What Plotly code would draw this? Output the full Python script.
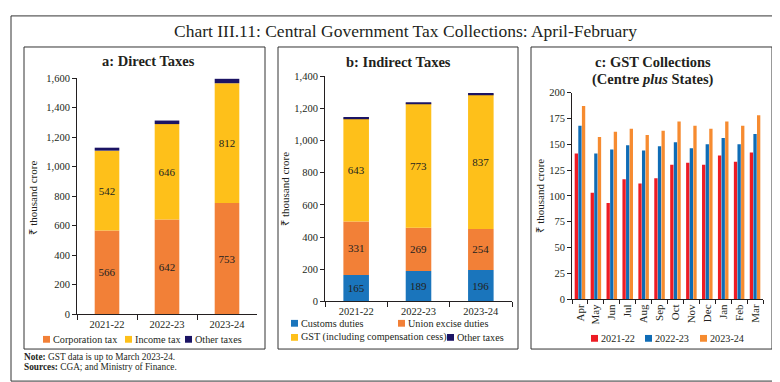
import plotly.graph_objects as go

# ---------------- data ----------------
years = ["2021-22", "2022-23", "2023-24"]
corporation_tax = [566, 642, 753]
income_tax = [542, 646, 812]
other_direct = [20, 24, 30]

customs_duties = [165, 189, 196]
excise_duties = [331, 269, 254]
gst_incl_cess = [643, 773, 837]
other_indirect = [7, 5, 8]

months = ["Apr", "May", "Jun", "Jul", "Aug", "Sep", "Oct", "Nov", "Dec", "Jan", "Feb", "Mar"]
gst_2021_22 = [141, 103, 93, 116, 112, 117, 130, 132, 130, 139, 133, 142]
gst_2022_23 = [168, 141, 145, 149, 144, 148, 152, 146, 150, 156, 150, 160]
gst_2023_24 = [187, 157, 162, 165, 159, 163, 172, 168, 165, 172, 168, 178]

# ---------------- style ----------------
W, H = 780, 382
FONT = "Liberation Serif"
INK = "#231F20"
C_ORANGE = "#F28037"
C_YELLOW = "#FEC01A"
C_NAVY = "#1B1464"
C_BLUE = "#1A75BC"
C_RED = "#ED1C24"
C_BLUE2 = "#0F6CB6"
C_ORANGE2 = "#F68B30"
TICK_SIZE = 10.5
LEG_SIZE = 10.2


def fx(px):
    return px / W


def fy(py):
    return 1 - py / H


fig = go.Figure()


def add_stack(series, names, colors, xa, ya, labelled):
    base = [0] * len(years)
    for vals, name, col, lab in zip(series, names, colors, labelled):
        fig.add_trace(go.Bar(
            x=years, y=vals, base=base, name=name,
            marker=dict(color=col, line=dict(width=0)),
            width=0.41, offsetgroup="s" + xa,
            text=[str(v) for v in vals] if lab else None,
            textposition="inside" if lab else "none",
            insidetextanchor="middle", textangle=0,
            textfont=dict(family=FONT, size=11, color=INK),
            xaxis=xa, yaxis=ya, showlegend=False,
        ))
        base = [b + v for b, v in zip(base, vals)]


add_stack([corporation_tax, income_tax, other_direct],
          ["Corporation tax", "Income tax", "Other taxes"],
          [C_ORANGE, C_YELLOW, C_NAVY], "x", "y", [True, True, False])

add_stack([customs_duties, excise_duties, gst_incl_cess, other_indirect],
          ["Customs duties", "Union excise duties",
           "GST (including compensation cess)", "Other taxes"],
          [C_BLUE, C_ORANGE, C_YELLOW, C_NAVY], "x2", "y2",
          [True, True, True, False])

for vals, name, col in zip([gst_2021_22, gst_2022_23, gst_2023_24],
                           ["2021-22", "2022-23", "2023-24"],
                           [C_RED, C_BLUE2, C_ORANGE2]):
    fig.add_trace(go.Bar(x=months, y=vals, name=name,
                         marker=dict(color=col, line=dict(width=0)),
                         xaxis="x3", yaxis="y3", showlegend=False))


def ax(**kw):
    d = dict(showline=True, linecolor=INK, linewidth=1, ticks="outside",
             ticklen=4, tickcolor=INK, showgrid=False, zeroline=False,
             tickfont=dict(family=FONT, size=TICK_SIZE, color=INK))
    d.update(kw)
    return d


fig.update_layout(
    width=W, height=H, margin=dict(l=0, r=0, t=0, b=0),
    paper_bgcolor="white", plot_bgcolor="white",
    showlegend=False, barmode="group", bargap=0.32, bargroupgap=0.08,
    font=dict(family=FONT, color=INK),
    xaxis=ax(domain=[fx(69), fx(249)], anchor="y", tickson="boundaries", ticklen=5),
    yaxis=ax(domain=[fy(310), fy(67)], anchor="x", range=[0, 1600], dtick=200,
             tickformat=",d"),
    xaxis2=ax(domain=[fx(317), fx(504)], anchor="y2", tickson="boundaries", ticklen=5),
    yaxis2=ax(domain=[fy(297), fy(65)], anchor="x2", range=[0, 1400], dtick=200,
              tickformat=",d"),
    xaxis3=ax(domain=[fx(564), fx(755)], anchor="y3", tickson="boundaries",
              tickangle=-90, tickfont=dict(family=FONT, size=11, color=INK)),
    yaxis3=ax(domain=[fy(294.5), fy(82)], anchor="x3", range=[0, 200], dtick=25),
)

# frames
shapes = [dict(type="rect", xref="paper", yref="paper",
               x0=fx(3), x1=fx(777), y0=fy(379), y1=fy(3),
               line=dict(color="#333333", width=1))]
for x0, x1 in [(16, 257), (270, 510), (523, 764)]:
    shapes.append(dict(type="rect", xref="paper", yref="paper",
                       x0=fx(x0), x1=fx(x1), y0=fy(346), y1=fy(35),
                       line=dict(color="#333333", width=1)))

ann = []


def text(x, y, s, size=11, anchor="center", angle=0, color=INK):
    ann.append(dict(xref="paper", yref="paper", x=fx(x), y=fy(y), text=s,
                    showarrow=False, xanchor=anchor, yanchor="middle",
                    textangle=angle, borderpad=0,
                    font=dict(family=FONT, size=size, color=color)))


text(397, 19, "Chart III.11: Central Government Tax Collections: April-February", size=17.5)
text(140, 49, "<b>a: Direct Taxes</b>", size=14.5)
text(390, 50.5, "<b>b: Indirect Taxes</b>", size=14.5)
text(645, 50.5, "<b>c: GST Collections</b>", size=14.5)
text(645, 68.5, "<b>(Centre <i>plus</i> States)</b>", size=14.5)

for x, y in [(25, 190), (277, 181), (532, 188)]:
    text(x, y, "₹ thousand crore", size=11, angle=-90)


def legend_item(x, y, color, label):
    shapes.append(dict(type="rect", xref="paper", yref="paper",
                       x0=fx(x), x1=fx(x + 7), y0=fy(y + 3.5), y1=fy(y - 3.5),
                       line=dict(width=0), fillcolor=color))
    text(x + 9, y, label, size=LEG_SIZE, anchor="left")


legend_item(35, 336, C_ORANGE, "Corporation tax")
legend_item(117, 336, C_YELLOW, "Income tax")
legend_item(177, 336, C_NAVY, "Other taxes")

legend_item(283, 319.5, C_BLUE, "Customs duties")
legend_item(390, 319.5, C_ORANGE, "Union excise duties")
legend_item(283, 334, C_YELLOW, "GST (including compensation cess)")
legend_item(439, 334, C_NAVY, "Other taxes")

legend_item(583, 335, C_RED, "2021-22")
legend_item(637, 335, C_BLUE2, "2022-23")
legend_item(692, 335, C_ORANGE2, "2023-24")

text(15, 354.5, "<b>Note:</b> GST data is up to March 2023-24.", size=9.3, anchor="left")
text(15, 365, "<b>Sources:</b> CGA; and Ministry of Finance.", size=9.3, anchor="left")

fig.update_layout(shapes=shapes, annotations=ann)
fig.write_html("out.html")
